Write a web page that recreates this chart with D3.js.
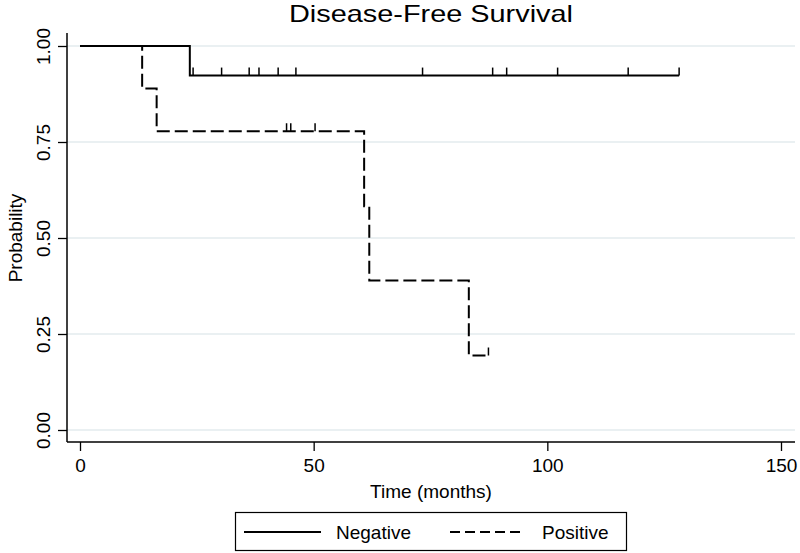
<!DOCTYPE html>
<html>
<head>
<meta charset="utf-8">
<script src="https://cdn.jsdelivr.net/npm/d3@7"></script>
<style>
  html, body { margin: 0; padding: 0; background: #fff; }
  svg { display: block; }
  text { font-family: "Liberation Sans", Arial, sans-serif; fill: #000; }
</style>
</head>
<body>
<svg id="chart" width="800" height="553"></svg>
<script>
// ---- data ----
const chartTitle = "Disease-Free Survival";
const xLabel = "Time (months)";
const yLabel = "Probability";
const xTicks = [0, 50, 100, 150];
const yTicks = [0, 0.25, 0.5, 0.75, 1.0];
const seriesNames = ["Negative", "Positive"];

// Kaplan-Meier step points (time, survival probability)
const negStepTimes = [0, 23.5, 128.2];
const negStepProb  = [1.0, 0.923, 0.923];
const negCensor    = [24.2, 30.3, 36.2, 38.3, 42.4, 46.2, 73.3, 88.3, 91.3, 102.2, 117.3, 128.2];

const posStepTimes = [0, 13.3, 16.4, 60.8, 61.9, 83.2, 87.4];
const posStepProb  = [1.0, 0.889, 0.778, 0.583, 0.389, 0.194, 0.194];
const posCensor    = [44.2, 45.1, 50.3, 87.4];

// ---- layout ----
const svg = d3.select("#chart");
const x = d3.scaleLinear().domain([0, 150]).range([80, 781]);
const y = d3.scaleLinear().domain([0, 1]).range([430, 46]);
const axisLeftX = 67, axisBottomY = 442, axisTopY = 33, axisRightX = 795;

// gridlines
svg.append("g").selectAll("line").data(yTicks).join("line")
  .attr("x1", axisLeftX).attr("x2", axisRightX)
  .attr("y1", d => y(d)).attr("y2", d => y(d))
  .attr("stroke", "#e3ebee").attr("stroke-width", 1.5);

// y axis
const gy = svg.append("g").attr("transform", `translate(${axisLeftX},0)`)
  .call(d3.axisLeft(y).tickValues(yTicks).tickFormat(d3.format(".2f")).tickSize(9).tickPadding(6));
gy.select(".domain").remove();
gy.append("line").attr("x1", 0).attr("x2", 0).attr("y1", axisTopY).attr("y2", axisBottomY)
  .attr("stroke", "#000").attr("stroke-width", 1.5);
gy.selectAll(".tick line").attr("stroke", "#000").attr("stroke-width", 1.3);
gy.selectAll(".tick text")
  .attr("font-size", 19).attr("fill", "#000")
  .attr("text-anchor", "middle")
  .attr("x", null).attr("dy", null)
  .attr("transform", "translate(-24,0) rotate(-90)")
  .attr("y", 0)
  .attr("dominant-baseline", "central");

// x axis
const gx = svg.append("g").attr("transform", `translate(0,${axisBottomY})`)
  .call(d3.axisBottom(x).tickValues(xTicks).tickFormat(d3.format("d")).tickSize(9).tickPadding(8));
gx.select(".domain").remove();
gx.append("line").attr("x1", axisLeftX).attr("x2", axisRightX).attr("y1", 0).attr("y2", 0)
  .attr("stroke", "#000").attr("stroke-width", 1.5);
gx.selectAll(".tick line").attr("stroke", "#000").attr("stroke-width", 1.3);
gx.selectAll(".tick text").attr("font-size", 19).attr("fill", "#000");

// axis titles
svg.append("text").attr("x", 431).attr("y", 498).attr("text-anchor", "middle")
  .attr("font-size", 19).text(xLabel);
svg.append("text").attr("transform", "translate(15,238) rotate(-90)")
  .attr("text-anchor", "middle").attr("dominant-baseline", "central")
  .attr("font-size", 19).text(yLabel);

// title
svg.append("text").attr("x", 431).attr("y", 22).attr("text-anchor", "middle")
  .attr("font-size", 24).attr("textLength", 284).attr("lengthAdjust", "spacingAndGlyphs")
  .text(chartTitle);

// curves
const stepLine = d3.line().x(d => x(d[0])).y(d => y(d[1])).curve(d3.curveStepAfter);
const negData = negStepTimes.map((t, i) => [t, negStepProb[i]]);
const posData = posStepTimes.map((t, i) => [t, posStepProb[i]]);

function probAt(times, probs, t) {
  let p = probs[0];
  for (let i = 0; i < times.length; i++) if (times[i] <= t) p = probs[i];
  return p;
}

svg.append("path").datum(posData).attr("d", stepLine)
  .attr("fill", "none").attr("stroke", "#000").attr("stroke-width", 2)
  .attr("stroke-dasharray", "13,5");
svg.append("path").datum(negData).attr("d", stepLine)
  .attr("fill", "none").attr("stroke", "#000").attr("stroke-width", 2);

// censor ticks
svg.append("g").selectAll("line").data(negCensor).join("line")
  .attr("x1", d => x(d)).attr("x2", d => x(d))
  .attr("y1", d => y(probAt(negStepTimes, negStepProb, d)))
  .attr("y2", d => y(probAt(negStepTimes, negStepProb, d)) - 8)
  .attr("stroke", "#000").attr("stroke-width", 1.5);
svg.append("g").selectAll("line").data(posCensor).join("line")
  .attr("x1", d => x(d)).attr("x2", d => x(d))
  .attr("y1", d => y(probAt(posStepTimes, posStepProb, d)))
  .attr("y2", d => y(probAt(posStepTimes, posStepProb, d)) - 8)
  .attr("stroke", "#000").attr("stroke-width", 1.5);

// legend
const lg = svg.append("g");
lg.append("rect").attr("x", 235.5).attr("y", 512.5).attr("width", 391).attr("height", 38)
  .attr("fill", "#fff").attr("stroke", "#000").attr("stroke-width", 1.2);
lg.append("line").attr("x1", 244).attr("x2", 321).attr("y1", 532).attr("y2", 532)
  .attr("stroke", "#000").attr("stroke-width", 2);
lg.append("text").attr("x", 336).attr("y", 539).attr("font-size", 19).text(seriesNames[0]);
lg.append("line").attr("x1", 450).attr("x2", 524).attr("y1", 532).attr("y2", 532)
  .attr("stroke", "#000").attr("stroke-width", 2).attr("stroke-dasharray", "10,5");
lg.append("text").attr("x", 542).attr("y", 539).attr("font-size", 19).text(seriesNames[1]);
</script>
</body>
</html>
